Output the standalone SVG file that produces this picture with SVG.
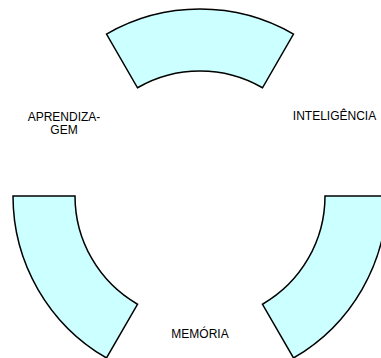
<svg xmlns="http://www.w3.org/2000/svg" width="381" height="358" viewBox="0 0 381 358">
<style>
.seg{fill:#CCFFFF;stroke:#000;stroke-width:1.5;stroke-linejoin:miter}
.lbl{font-family:"Liberation Sans",Arial,sans-serif;font-size:12px;fill:#000;text-anchor:middle}
</style>
<rect width="381" height="358" fill="#fff"/>
<g id="seg-top"><path class="seg" d="M106.5,34.05 A187,187 0 0 1 293.5,34.05 L262.5,87.75 A125,125 0 0 0 137.5,87.75 Z"/></g>
<g id="seg-right"><path class="seg" d="M325,196 L387,196 A187,187 0 0 1 293.5,357.95 L262.5,304.25 A125,125 0 0 0 325,196 Z"/></g>
<g id="seg-left"><path class="seg" d="M13,196 L75,196 A125,125 0 0 0 137.5,304.25 L106.5,357.95 A187,187 0 0 1 13,196 Z"/></g>
<g id="label-inteligencia"><text class="lbl" x="334.5" y="120">INTELIGÊNCIA</text></g>
<g id="label-aprendizagem"><text class="lbl" x="64" y="121">APRENDIZA-</text><text class="lbl" x="64" y="134">GEM</text></g>
<g id="label-memoria"><text class="lbl" x="200" y="338">MEMÓRIA</text></g>
</svg>
